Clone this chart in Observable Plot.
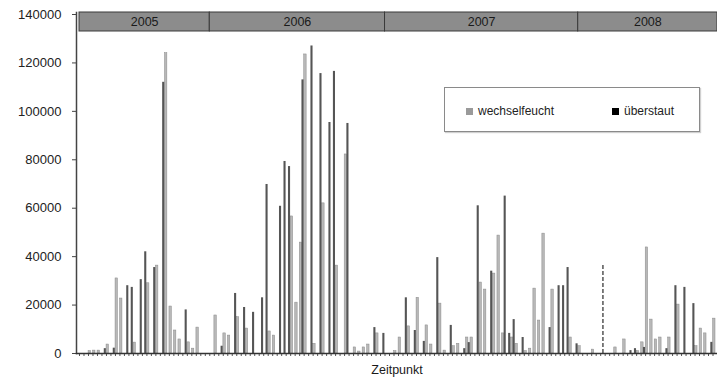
<!DOCTYPE html>
<html>
<head>
<meta charset="utf-8">
<script src="https://cdn.jsdelivr.net/npm/d3@7"></script>
<script src="https://cdn.jsdelivr.net/npm/@observablehq/plot@0.6"></script>
<style>
  body { margin: 0; background: #fff; font-family: "Liberation Sans", Arial, sans-serif; }
  #wrap { position: relative; width: 717px; height: 380px; overflow: hidden; }
  #legend { position: absolute; left: 444px; top: 87px; width: 254px; height: 43px;
            border: 1.5px solid #8a8a8a; box-shadow: 1px 1px 1px #d0d0d0; background: #fff;
            font-size: 12px; color: #222; }
  .item { position: absolute; top: 16px; display: flex; align-items: center; }
  .sw { width: 7px; height: 7px; margin-right: 5px; }
</style>
</head>
<body>
<div id="wrap">
  <div id="chart"></div>
  <div id="legend">
    <div class="item" style="left:21px"><div class="sw" style="background:#9a9a9a"></div><span>wechselfeucht</span></div>
    <div class="item" style="left:167px"><div class="sw" style="background:#000"></div><span>überstaut</span></div>
  </div>
</div>
<script>
// Sampling dates (category slots along the x axis)
const zeitpunkte = Array.from({length: 142}, (_, i) => i);

// Series values per slot (0 = no bar)
const wechselfeucht = [
  0, 0, 1000, 1200, 1200, 0, 3700, 0, 31000, 22700,
  0, 0, 4500, 0, 0, 29000, 0, 36300, 0, 124000,
  19400, 9500, 5800, 0, 4600, 2000, 10700, 0, 0, 0,
  15700, 0, 8300, 7400, 0, 15000, 0, 10300, 0, 0,
  0, 0, 9100, 7400, 0, 0, 0, 56600, 21000, 45800,
  123500, 0, 4000, 0, 62000, 0, 0, 36300, 0, 82200,
  0, 2500, 800, 2500, 3700, 0, 8300, 0, 0, 0,
  1000, 6600, 0, 11200, 0, 23000, 0, 11600, 3700, 0,
  20600, 1200, 0, 3000, 4000, 0, 6600, 6600, 0, 29300,
  26400, 0, 33000, 48700, 8300, 0, 6600, 4000, 0, 1000,
  2000, 26800, 13600, 49500, 0, 26400, 0, 0, 0, 6600,
  0, 3000, 0, 0, 1600, 0, 0, 0, 0, 2500,
  0, 5800, 0, 0, 1000, 4600, 43800, 14000, 5800, 6600,
  0, 6600, 0, 20200, 0, 0, 0, 3000, 10300, 8300,
  0, 14400
];
const ueberstaut = [
  0, 0, 0, 0, 0, 2000, 0, 2200, 0, 0,
  28000, 27300, 0, 30500, 42000, 0, 35500, 0, 112000, 0,
  0, 0, 0, 18000, 0, 0, 0, 0, 0, 0,
  0, 3000, 0, 0, 24800, 0, 19000, 0, 17000, 0,
  23000, 69800, 0, 0, 60800, 79300, 77200, 0, 0, 113000,
  0, 127000, 0, 115600, 0, 95400, 116500, 0, 0, 95000,
  0, 0, 0, 0, 0, 10700, 0, 8300, 0, 0,
  0, 0, 23000, 0, 9500, 0, 5000, 0, 0, 39600,
  0, 0, 11600, 0, 0, 2000, 4500, 0, 61000, 0,
  0, 34000, 0, 0, 65000, 8300, 14000, 0, 6600, 0,
  0, 0, 0, 0, 10700, 0, 28000, 28000, 35500, 0,
  4000, 0, 0, 0, 0, 0, 0, 0, 0, 0,
  0, 0, 1200, 2000, 0, 2500, 0, 0, 0, 0,
  2000, 0, 28000, 0, 27300, 0, 20600, 0, 0, 0,
  4600, 0
];
// dashed marker bar
const markiertSlot = [116];
const markiertWert = [36300];

// Year header band
const jahre = ["2005", "2006", "2007", "2008"];
const jahrStart = [0, 29, 68, 111];
const jahrEnde = [29, 68, 111, 142];

// Y tick values
const yTicks = [0, 20000, 40000, 60000, 80000, 100000, 120000, 140000];

const table = zeitpunkte.map((t, i) => ({t, w: wechselfeucht[i], u: ueberstaut[i]}));
const marker = markiertSlot.map((t, i) => ({t, v: markiertWert[i]}));

const chart = Plot.plot({
  width: 717,
  height: 380,
  marginLeft: 76,
  marginRight: 0,
  marginTop: 12,
  marginBottom: 27,
  x: {type: "linear", domain: [0, 142], range: [79, 717]},
  y: {domain: [0, 140000], range: [353, 14]},
  style: {fontFamily: "Liberation Sans, Arial, sans-serif", background: "#fff", color: "#222"},
  marks: [
    Plot.rect(table.filter(d => d.w > 0), {
      x1: d => d.t, x2: d => d.t + 1, y1: 0, y2: "w",
      insetLeft: 0.1, insetRight: 2.0, fill: "#b8b8b8", stroke: "#8a8a8a", strokeWidth: 0.5
    }),
    Plot.rect(table.filter(d => d.u > 0), {
      x1: d => d.t, x2: d => d.t + 1, y1: 0, y2: "u",
      insetLeft: 2.3, insetRight: 0.1, fill: "#555555"
    }),
    Plot.ruleX(marker, {
      x: d => d.t + 0.5, y1: 0, y2: "v",
      stroke: "#555", strokeWidth: 1.5, strokeDasharray: "4,2"
    }),
    Plot.rect(jahre, {
      x1: (d, i) => jahrStart[i], x2: (d, i) => jahrEnde[i],
      y1: 132980, y2: 140826,
      fill: "#8c8c8c", stroke: "#3a3a3a", strokeWidth: 1
    }),
    Plot.text(jahre, {
      x: (d, i) => (jahrStart[i] + jahrEnde[i]) / 2, y: 136700, text: d => d,
      fontSize: 12.5, fill: "#1a1a1a"
    }),
    Plot.axisY({
      ticks: yTicks, tickFormat: d => String(d), tickSize: 4, tickPadding: 11,
      fontSize: 13, label: null, stroke: "#444"
    }),
    Plot.axisX({
      ticks: d3.range(0, 143), tickSize: 3, tickFormat: () => "", label: null, stroke: "#555"
    }),
    Plot.frame({anchor: "left", stroke: "#444", strokeWidth: 1.5}),
    Plot.frame({anchor: "bottom", stroke: "#333", strokeWidth: 1.5}),
    Plot.text(["Zeitpunkt"], {
      frameAnchor: "bottom", dy: 16, lineAnchor: "middle", fontSize: 12.5, fill: "#1a1a1a"
    })
  ]
});
document.getElementById("chart").appendChild(chart);
</script>
</body>
</html>
